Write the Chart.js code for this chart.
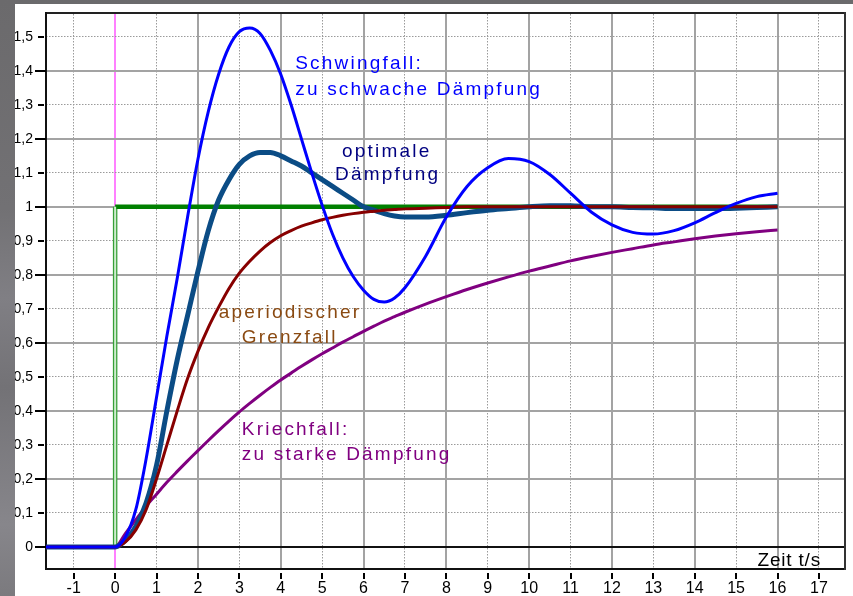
<!DOCTYPE html>
<html>
<head>
<meta charset="utf-8">
<script src="https://cdn.jsdelivr.net/npm/chart.js@4.4.0/dist/chart.umd.min.js"></script>
<style>
  html, body { margin: 0; padding: 0; }
  body {
    width: 853px; height: 596px; position: relative; overflow: hidden;
    background: linear-gradient(180deg, #6b6a6c 0%, #727174 35%, #807f84 50%, #737276 65%, #87868b 88%, #7b7a7e 100%);
  }
  #wrap { position: absolute; left: 15px; top: 4px; width: 838px; height: 592px; background: #fff; }
</style>
</head>
<body>
<div id="wrap"><canvas id="sprungChart" width="838" height="592"></canvas></div>
<script>
// Zeitpunkte (s)
const zeit = [-1.7, 0, 0.25, 0.5, 0.75, 1, 1.25, 1.5, 1.75, 2, 2.25, 2.5, 2.75, 3, 3.25, 3.5, 3.75, 4,
  4.25, 4.5, 4.75, 5, 5.25, 5.5, 5.75, 6, 6.25, 6.5, 6.75, 7, 7.5, 8, 8.5, 9, 9.5, 10, 10.5, 11,
  11.5, 12, 12.5, 13, 13.5, 14, 14.5, 15, 15.5, 16];

// Schwingfall: zu schwache Daempfung
const schwingfall = [0, 0, 0.03, 0.11, 0.26, 0.44, 0.62, 0.79, 0.97, 1.14, 1.28, 1.39, 1.47, 1.515,
  1.526, 1.51, 1.46, 1.39, 1.30, 1.20, 1.10, 1.005, 0.92, 0.85, 0.795, 0.755, 0.728, 0.72, 0.732, 0.762,
  0.855, 0.97, 1.06, 1.115, 1.142, 1.133, 1.095, 1.04, 0.985, 0.947, 0.925, 0.92, 0.93, 0.953, 0.983,
  1.01, 1.03, 1.04];

// optimale Daempfung
const optimal = [0, 0, 0.02, 0.06, 0.13, 0.24, 0.40, 0.55, 0.68, 0.81, 0.93, 1.02, 1.08, 1.125,
  1.15, 1.16, 1.16, 1.15, 1.135, 1.12, 1.10, 1.08, 1.06, 1.04, 1.02, 1.0, 0.99, 0.98, 0.973, 0.97,
  0.97, 0.975, 0.983, 0.99, 0.995, 1.0, 1.003, 1.003, 1.0, 1.0, 0.998, 0.997, 0.995, 0.995, 0.995,
  0.996, 0.998, 1.0];

// aperiodischer Grenzfall
const grenzfall = [0, 0, 0.015, 0.05, 0.11, 0.2, 0.3, 0.4, 0.495, 0.575, 0.645, 0.705, 0.76, 0.805,
  0.84, 0.87, 0.895, 0.915, 0.93, 0.943, 0.953, 0.962, 0.969, 0.975, 0.98, 0.984, 0.987, 0.99, 0.992,
  0.994, 0.996, 0.998, 1, 1, 1, 1, 1, 1, 1, 1, 1, 1, 1, 1, 1, 1, 1, 1];

// Kriechfall: zu starke Daempfung
const kriechfall = [0, 0, 0.04, 0.08, 0.12, 0.155, 0.19, 0.222, 0.253, 0.283, 0.313, 0.342, 0.37,
  0.397, 0.422, 0.446, 0.469, 0.491, 0.511, 0.531, 0.55, 0.568, 0.585, 0.602, 0.618, 0.634, 0.649,
  0.664, 0.677, 0.69, 0.714, 0.736, 0.757, 0.776, 0.794, 0.811, 0.826, 0.841, 0.854, 0.866, 0.877,
  0.888, 0.897, 0.906, 0.914, 0.921, 0.927, 0.932];

// Sprungfunktion
const sprungZeit = [0, 0, 16];
const sprungWert = [0, 1, 1];

// Achsenbeschriftung
const xTicks = [-1, 0, 1, 2, 3, 4, 5, 6, 7, 8, 9, 10, 11, 12, 13, 14, 15, 16, 17];
const yTicks = [0, 0.1, 0.2, 0.3, 0.4, 0.5, 0.6, 0.7, 0.8, 0.9, 1, 1.1, 1.2, 1.3, 1.4, 1.5];

const toPoints = (xs, ys) => xs.map((x, i) => ({ x: x, y: ys[i] }));
const isEvenX = v => Math.abs(v % 2) === 0;
const isEvenY = v => Math.round(v * 10) % 2 === 0;
const tickVal = ctx => (ctx.tick ? ctx.tick.value : null);
const noPad = s => { s.paddingTop = 0; s.paddingBottom = 0; s.paddingLeft = 0; s.paddingRight = 0; };

const X_MIN = -1.67, X_MAX = 17.63, Y_MIN = -0.065, Y_MAX = 1.57;

// texts drawn into the plot, placed in data coordinates
const beschriftung = [
  { text: 'Schwingfall:', t: 4.35, v: 1.406, color: '#0000ff' },
  { text: 'zu schwache Dämpfung', t: 4.35, v: 1.329, color: '#0000ff' },
  { text: 'optimale', t: 5.48, v: 1.147, color: '#000080' },
  { text: 'Dämpfung', t: 5.31, v: 1.079, color: '#000080' },
  { text: 'aperiodischer', t: 2.5, v: 0.674, color: '#8a4a12' },
  { text: 'Grenzfall', t: 3.06, v: 0.60, color: '#8a4a12' },
  { text: 'Kriechfall:', t: 3.06, v: 0.329, color: '#800080' },
  { text: 'zu starke Dämpfung', t: 3.06, v: 0.256, color: '#800080' }
];

const extras = {
  id: 'extras',
  afterDraw(chart) {
    const { ctx, chartArea: a, scales: { x, y } } = chart;
    ctx.save();
    ctx.strokeStyle = '#000';
    ctx.lineWidth = 2;
    ctx.beginPath();
    xTicks.forEach(v => {
      const px = Math.round(x.getPixelForValue(v));
      ctx.moveTo(px, a.bottom + 4);
      ctx.lineTo(px, a.bottom + 10);
    });
    yTicks.forEach(v => {
      const py = Math.round(y.getPixelForValue(v));
      if (isEvenY(v)) {
        ctx.moveTo(a.left - 11, py);
        ctx.lineTo(a.left, py);
      } else {
        ctx.moveTo(a.left - 8, py);
        ctx.lineTo(a.left - 2, py);
      }
    });
    ctx.stroke();

    ctx.font = '19px "Liberation Sans", Arial, sans-serif';
    ctx.textBaseline = 'alphabetic';
    ctx.letterSpacing = '2.2px';
    beschriftung.forEach(b => {
      ctx.fillStyle = b.color;
      ctx.fillText(b.text, x.getPixelForValue(b.t), y.getPixelForValue(b.v));
    });

    ctx.fillStyle = '#000';
    ctx.textAlign = 'right';
    ctx.letterSpacing = '0.8px';
    ctx.fillText('Zeit t/s', x.getPixelForValue(17.05), y.getPixelForValue(-0.056));
    ctx.restore();
  }
};

const ctx = document.getElementById('sprungChart').getContext('2d');

new Chart(ctx, {
  type: 'line',
  data: {
    datasets: [
      {
        label: 'Schwingfall', data: toPoints(zeit, schwingfall),
        borderColor: '#0000ff', borderWidth: 3, order: 1
      },
      {
        label: 'aperiodischer Grenzfall', data: toPoints(zeit, grenzfall),
        borderColor: '#870000', borderWidth: 3, order: 2
      },
      {
        label: 'optimale Dämpfung', data: toPoints(zeit, optimal),
        borderColor: '#0b4c85', borderWidth: 5, order: 3
      },
      {
        label: 'Kriechfall', data: toPoints(zeit, kriechfall),
        borderColor: '#800080', borderWidth: 3, order: 4
      },
      {
        label: 'Sprung innen', data: toPoints(sprungZeit.slice(0, 2), sprungWert.slice(0, 2)),
        borderColor: '#cdeccd', borderWidth: 2, order: 5
      },
      {
        label: 'Sprung', data: toPoints(sprungZeit, sprungWert),
        borderColor: '#008000', borderWidth: 4.5, order: 6,
        segment: {
          borderColor: c => (c.p0DataIndex === 0 ? '#36a036' : '#008000')
        }
      }
    ]
  },
  options: {
    responsive: false,
    devicePixelRatio: 1,
    animation: false,
    elements: {
      point: { radius: 0, hoverRadius: 0 },
      line: { cubicInterpolationMode: 'monotone', borderCapStyle: 'butt' }
    },
    layout: { padding: { top: 9, right: 8, left: 0, bottom: 0 } },
    plugins: { legend: { display: false }, tooltip: { enabled: false } },
    events: [],
    scales: {
      x: {
        type: 'linear', position: 'bottom', min: X_MIN, max: X_MAX,
        afterBuildTicks: s => { s.ticks = xTicks.map(v => ({ value: v })); },
        afterFit: s => { s.height = 27; noPad(s); },
        ticks: {
          autoSkip: false, maxRotation: 0, padding: 10, color: '#000',
          font: { family: '"Liberation Sans Narrow", "Liberation Sans", Arial, sans-serif', size: 16 },
          callback: v => String(v)
        },
        grid: {
          drawTicks: false,
          color: c => { const v = tickVal(c); if (v === 0) return '#ff80ff'; return v !== null && isEvenX(v) ? '#a3a3a3' : 'rgba(0,0,0,0)'; },
          lineWidth: 2
        },
        border: { display: true, color: '#111', width: 2 }
      },
      x2: {
        type: 'linear', position: 'top', min: X_MIN, max: X_MAX,
        afterBuildTicks: s => { s.ticks = xTicks.map(v => ({ value: v })); },
        afterFit: s => { s.height = 0; noPad(s); },
        ticks: { display: false },
        grid: {
          drawTicks: false,
          color: c => { const v = tickVal(c); return v !== null && !isEvenX(v) ? '#9a9a9a' : 'rgba(0,0,0,0)'; },
          lineWidth: 1
        },
        border: { display: true, color: '#222', width: 2, dash: [1.5, 1.5] }
      },
      y: {
        type: 'linear', position: 'left', min: Y_MIN, max: Y_MAX,
        afterBuildTicks: s => { s.ticks = yTicks.map(v => ({ value: v })); },
        afterFit: s => { s.width = 31; noPad(s); },
        ticks: {
          autoSkip: false, padding: 13, color: '#000',
          font: { family: '"Liberation Sans", Arial, sans-serif', size: 14 },
          callback: v => (Math.round(v * 10) % 10 === 0 ? String(Math.round(v)) : v.toFixed(1).replace('.', ','))
        },
        grid: {
          drawTicks: false,
          color: c => { const v = tickVal(c); if (v === 0) return '#111'; return v !== null && isEvenY(v) ? '#a3a3a3' : 'rgba(0,0,0,0)'; },
          lineWidth: 2
        },
        border: { display: true, color: '#111', width: 2 }
      },
      y2: {
        type: 'linear', position: 'right', min: Y_MIN, max: Y_MAX,
        afterBuildTicks: s => { s.ticks = yTicks.map(v => ({ value: v })); },
        afterFit: s => { s.width = 0; noPad(s); },
        ticks: { display: false },
        grid: {
          drawTicks: false,
          color: c => { const v = tickVal(c); return v !== null && !isEvenY(v) ? '#9a9a9a' : 'rgba(0,0,0,0)'; },
          lineWidth: 1
        },
        border: { display: true, color: '#333', width: 2, dash: [1.5, 1.5] }
      }
    }
  },
  plugins: [extras]
});
</script>
</body>
</html>
